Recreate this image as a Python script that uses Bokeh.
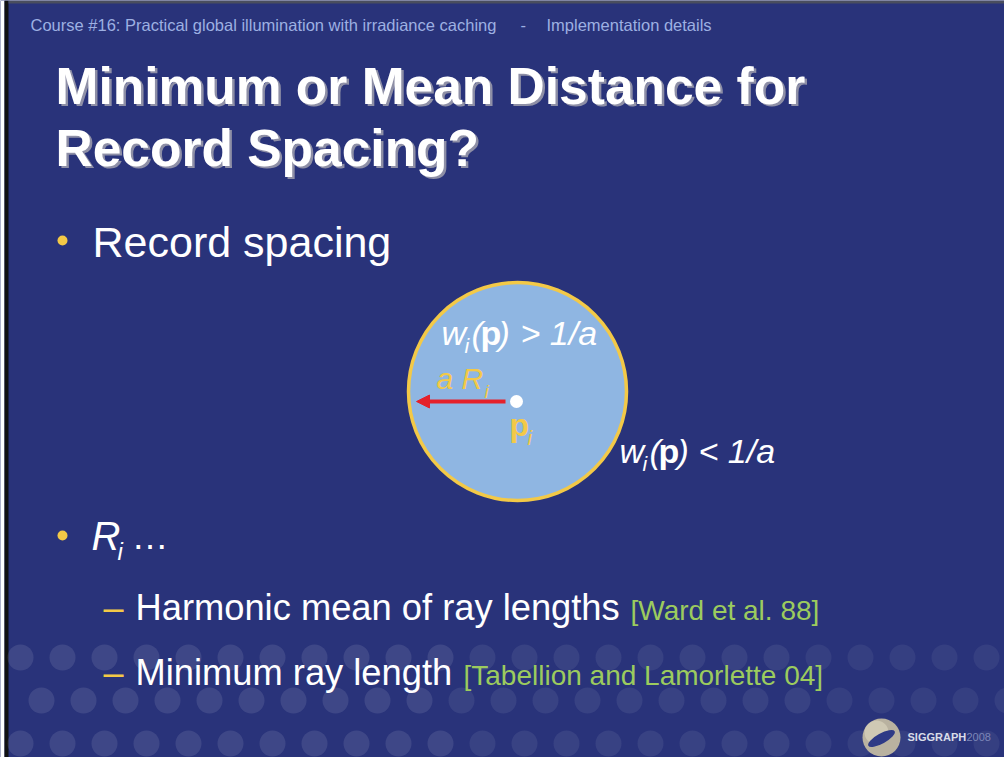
from bokeh.plotting import figure
from bokeh.models import Range1d, Arrow, NormalHead
from bokeh.core.properties import value
from bokeh.embed import file_html
from bokeh.resources import INLINE

# ---------------- content ----------------
HEADER_LEFT = "Course #16: Practical global illumination with irradiance caching"
HEADER_SEP = "-"
HEADER_RIGHT = "Implementation details"
TITLE_LINES = ["Minimum or Mean Distance for", "Record Spacing?"]
BULLET_1 = "Record spacing"
BULLET_2 = ["R", "i", "…"]
SUB_ITEMS = ["Harmonic mean of ray lengths", "Minimum ray length"]
CITATIONS = ["[Ward et al. 88]", "[Tabellion and Lamorlette 04]"]
EQ_INSIDE = ["w", "i", "(", "p", ")", "> 1/a"]
EQ_OUTSIDE = ["w", "i", "(", "p", ")", "< 1/a"]
RADIUS_LABEL = ["a R", "i"]
POINT_LABEL = ["p", "i"]
LOGO_TEXT = ["SIGGRAPH", "2008"]

BG = "#29337a"
WHITE = "#ffffff"
YELLOW = "#f3c947"
GREEN = "#9ccb5e"
HEADER_COL = "#9db0e2"
FONT = "Liberation Sans"
K = 0.365  # baseline correction (fraction of font size)

W, H = 1004, 757
p = figure(width=W, height=H, output_backend="svg", toolbar_location=None,
           x_range=Range1d(0, W), y_range=Range1d(H, 0),
           min_border=0, background_fill_color=BG, border_fill_color=BG,
           outline_line_color=None)
p.axis.visible = False
p.grid.visible = False


def txt(x, base, s, size, color, style="normal", alpha=1.0):
    p.text(x=[x], y=[base - K * size], text=[s], text_font=value(FONT),
           text_font_size=f"{size}px", text_font_style=style,
           text_color=color, text_align="left", text_baseline="alphabetic",
           text_alpha=alpha)


# ---------------- page edges ----------------
p.quad(left=[0], right=[4], top=[0], bottom=[H], fill_color="#ffffff", line_color=None)
p.quad(left=[4], right=[8], top=[0], bottom=[H], fill_color="#111111", line_color=None)
p.quad(left=[8], right=[W], top=[0], bottom=[3], fill_color="#4a4e5e", line_color=None)

# ---------------- background dot texture ----------------
dx, dy, aa = [], [], []
rows = [657, 700, 743]
for ri, yy in enumerate(rows):
    off = 0 if ri % 2 == 0 else 21
    xx = 20 + off
    while xx < 1010:
        a = 0.10 if xx < 460 else (0.075 if xx < 800 else 0.06)
        dx.append(xx); dy.append(yy); aa.append(a)
        xx += 42
p.circle(x=dx, y=dy, radius=13, fill_color=WHITE, fill_alpha=aa, line_color=None)

# ---------------- header ----------------
txt(30, 31, HEADER_LEFT, 16.5, HEADER_COL)
txt(520, 31, HEADER_SEP, 16.5, HEADER_COL)
txt(546, 31, HEADER_RIGHT, 16.5, HEADER_COL)

# ---------------- title with shadow ----------------
for i, line in enumerate(TITLE_LINES):
    yb = 104 + i * 62
    txt(57.5, yb + 2.5, line, 51.5, "#8e8fa6", "bold")
    txt(55, yb, line, 51.5, WHITE, "bold")

# ---------------- bullet 1 ----------------
p.circle(x=[62], y=[240], radius=5, fill_color=YELLOW, line_color=None)
txt(92, 257, BULLET_1, 43, WHITE)

# ---------------- circle diagram ----------------
p.circle(x=[517], y=[391], radius=109, fill_color="#8fb6e2",
         line_color=YELLOW, line_width=3.5)
p.add_layout(Arrow(end=NormalHead(size=13, fill_color="#e5212b", line_color="#e5212b"),
                   x_start=505, y_start=401, x_end=416, y_end=401,
                   line_color="#e5212b", line_width=4))
p.circle(x=[516], y=[401], radius=6.5, fill_color=WHITE, line_color=None)

# inside equation
txt(441, 345, EQ_INSIDE[0], 34, WHITE, "italic")
txt(464, 353, EQ_INSIDE[1], 21, WHITE, "italic")
txt(471, 345, EQ_INSIDE[2], 34, WHITE, "italic")
txt(480, 345, EQ_INSIDE[3], 34, WHITE, "bold")
txt(498, 345, EQ_INSIDE[4], 34, WHITE, "italic")
txt(520, 345, EQ_INSIDE[5], 34, WHITE, "italic")

# radius label
txt(436, 389, RADIUS_LABEL[0], 30, YELLOW, "italic")
txt(484, 398, RADIUS_LABEL[1], 19, YELLOW, "italic")

# point label
txt(509, 436, POINT_LABEL[0], 32, YELLOW, "bold")
txt(527, 445, POINT_LABEL[1], 20, YELLOW, "italic")

# outside equation
txt(619, 463, EQ_OUTSIDE[0], 34, WHITE, "italic")
txt(642, 471, EQ_OUTSIDE[1], 21, WHITE, "italic")
txt(649, 463, EQ_OUTSIDE[2], 34, WHITE, "italic")
txt(658, 463, EQ_OUTSIDE[3], 34, WHITE, "bold")
txt(677, 463, EQ_OUTSIDE[4], 34, WHITE, "italic")
txt(698, 463, EQ_OUTSIDE[5], 34, WHITE, "italic")

# ---------------- bullet 2 ----------------
p.circle(x=[62], y=[535], radius=5, fill_color=YELLOW, line_color=None)
txt(91, 550, BULLET_2[0], 40, WHITE, "italic")
txt(117, 560, BULLET_2[1], 24, WHITE, "italic")
txt(131, 550, BULLET_2[2], 37, WHITE)

# ---------------- sub items ----------------
sub_base = [620, 685]
cite_x = [630, 463]
for i in range(2):
    txt(103, sub_base[i], "–", 36, YELLOW)
    txt(135, sub_base[i], SUB_ITEMS[i], 36.3, WHITE)
    txt(cite_x[i], sub_base[i], CITATIONS[i], 28, GREEN)

# ---------------- logo ----------------
p.circle(x=[881], y=[737], radius=19, fill_color="#b9b2a0", line_color=None)
p.circle(x=[876], y=[732], radius=12, fill_color="#e6dfc8", fill_alpha=0.5, line_color=None)
p.ellipse(x=[881], y=[738], width=30, height=10, angle=0.5,
          fill_color="#2e3a86", line_color=None)
txt(907, 741, LOGO_TEXT[0], 11, "#d8dce8", "bold")
txt(966, 741, LOGO_TEXT[1], 11, "#7c86b8")

open("out.html", "w").write(file_html(p, INLINE))
